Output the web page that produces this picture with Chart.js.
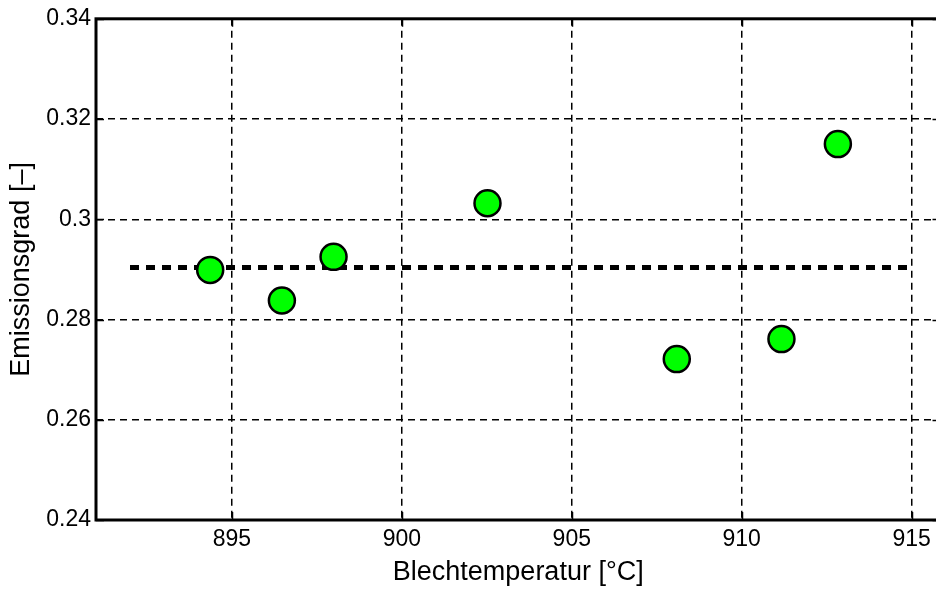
<!DOCTYPE html>
<html>
<head>
<meta charset="utf-8">
<script src="https://cdn.jsdelivr.net/npm/chart.js@4/dist/chart.umd.min.js"></script>
<style>
  html, body { margin: 0; padding: 0; background: #fff; overflow: hidden; }
  #wrap { position: relative; width: 956px; height: 592px; }
</style>
</head>
<body>
<div id="wrap"><canvas id="c" width="956" height="592"></canvas></div>
<script>
// Measured sheet temperatures [°C] and emissivity values [-]
const temperatures = [894.36, 896.47, 897.99, 902.52, 908.09, 911.17, 912.83];
const emissivity   = [0.2899, 0.2838, 0.2925, 0.3032, 0.2721, 0.2761, 0.3150];

// Mean emissivity line
const meanX = [892, 915];
const meanY = [0.2904, 0.2904];

// Axis ticks
const xTicks = [895, 900, 905, 910, 915];
const xTickLabels = ['895', '900', '905', '910', '915'];
const yTicks = [0.24, 0.26, 0.28, 0.30, 0.32, 0.34];
const yTickLabels = ['0.24', '0.26', '0.28', '0.3', '0.32', '0.34'];

const FONT = '"Liberation Sans", Arial, Helvetica, sans-serif';

// Frame and inward tick marks drawn around the plot area
const framePlugin = {
  id: 'frame',
  afterDraw(chart) {
    const { ctx, chartArea: a, scales } = chart;
    ctx.save();
    ctx.strokeStyle = '#000';
    ctx.lineWidth = 1.5;
    ctx.setLineDash([]);
    const len = 8;
    xTicks.forEach(v => {
      const x = Math.round(scales.x.getPixelForValue(v)) + 0.5;
      ctx.beginPath();
      ctx.moveTo(x, a.bottom); ctx.lineTo(x, a.bottom - len);
      ctx.moveTo(x, a.top); ctx.lineTo(x, a.top + len);
      ctx.stroke();
    });
    yTicks.forEach(v => {
      const y = Math.round(scales.y.getPixelForValue(v)) + 0.5;
      ctx.beginPath();
      ctx.moveTo(a.left, y); ctx.lineTo(a.left + len, y);
      ctx.moveTo(a.right, y); ctx.lineTo(a.right - len, y);
      ctx.stroke();
    });
    ctx.lineWidth = 3;
    ctx.strokeRect(a.left, a.top, a.right - a.left, a.bottom - a.top);
    ctx.restore();
  }
};

new Chart(document.getElementById('c'), {
  type: 'scatter',
  data: {
    datasets: [
      {
        label: 'Mittelwert',
        type: 'line',
        data: meanX.map((x, i) => ({ x, y: meanY[i] })),
        borderColor: '#000',
        borderWidth: 5,
        borderDash: [9, 7],
        pointRadius: 0,
        fill: false,
        order: 2
      },
      {
        label: 'Emissionsgrad',
        data: temperatures.map((x, i) => ({ x, y: emissivity[i] })),
        backgroundColor: '#00ff00',
        borderColor: '#000',
        borderWidth: 2.5,
        pointRadius: 13,
        pointHoverRadius: 13,
        order: 1
      }
    ]
  },
  options: {
    responsive: false,
    animation: false,
    layout: { padding: { top: 18, right: 5, left: 0, bottom: 0 } },
    plugins: { legend: { display: false }, tooltip: { enabled: false } },
    scales: {
      x: {
        type: 'linear',
        min: 891,
        max: 915.85,
        afterBuildTicks: s => { s.ticks = xTicks.map(v => ({ value: v })); },
        afterFit: s => { s.height = 72; },
        ticks: {
          color: '#000',
          font: { family: FONT, size: 23 },
          padding: 6,
          maxRotation: 0,
          callback: v => xTickLabels[xTicks.indexOf(v)]
        },
        grid: {
          color: '#000',
          lineWidth: 1.5,
          drawTicks: false
        },
        border: { display: false, dash: [7, 5] },
        title: {
          display: true,
          text: 'Blechtemperatur [°C]',
          color: '#000',
          font: { family: FONT, size: 27 },
          padding: { top: 0, bottom: 3 }
        }
      },
      y: {
        type: 'linear',
        min: 0.24,
        max: 0.34,
        afterBuildTicks: s => { s.ticks = yTicks.map(v => ({ value: v })); },
        afterFit: s => { s.width = 96; },
        ticks: {
          color: '#000',
          font: { family: FONT, size: 23 },
          padding: 5,
          callback: v => yTickLabels[yTicks.findIndex(t => Math.abs(t - v) < 1e-9)]
        },
        grid: {
          color: '#000',
          lineWidth: 1.5,
          drawTicks: false
        },
        border: { display: false, dash: [7, 5] },
        title: {
          display: true,
          text: 'Emissionsgrad [–]',
          color: '#000',
          font: { family: FONT, size: 27 },
          padding: { top: 5, bottom: 0 }
        }
      }
    }
  },
  plugins: [framePlugin]
});
</script>
</body>
</html>
